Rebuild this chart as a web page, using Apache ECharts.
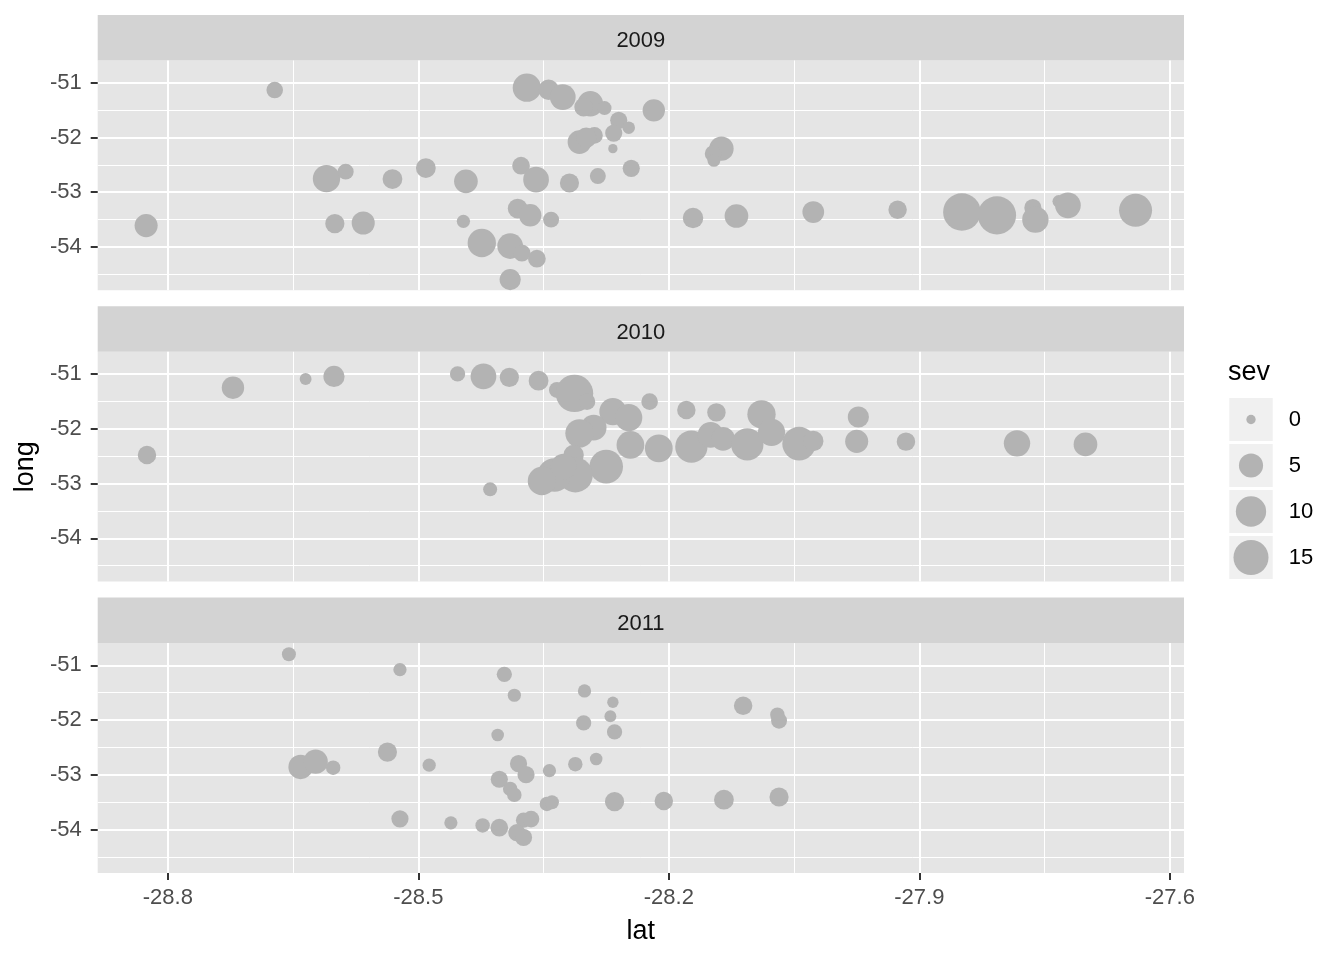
<!DOCTYPE html>
<html><head><meta charset="utf-8">
<script src="https://cdn.jsdelivr.net/npm/echarts@6/dist/echarts.min.js"></script>
<style>html,body{margin:0;padding:0;background:#fff}#chart{width:1344px;height:960px}</style>
</head><body><div id="chart"></div>
<script>
const years = ['2009', '2010', '2011'];

const lat2009 = [-28.672, -28.610, -28.587, -28.531, -28.491, -28.826, -28.600, -28.566,
  -28.370, -28.344, -28.327, -28.294, -28.302, -28.277, -28.218, -28.260, -28.248, -28.266, -28.307, -28.289, -28.299, -28.267, -28.377, -28.359, -28.443, -28.319, -28.285, -28.245, -28.137, -28.147, -28.146, -28.381, -28.366, -28.341, -28.446, -28.171, -28.119, -28.424, -28.390, -28.376, -28.358, -28.390,
  -28.027, -27.926, -27.849, -27.807, -27.764, -27.761, -27.733, -27.722, -27.641];
const long2009 = [-51.135, -52.752, -52.624, -52.759, -52.558, -53.609, -53.573, -53.562,
  -51.091, -51.128, -51.263, -51.383, -51.445, -51.464, -51.505, -51.688, -51.821, -51.920, -52.084, -51.962, -52.004, -52.204, -52.515, -52.770, -52.801, -52.832, -52.704, -52.564, -52.204, -52.296, -52.418, -53.299, -53.421, -53.500, -53.531, -53.471, -53.434, -53.927, -53.982, -54.109, -54.212, -54.595,
  -53.361, -53.318, -53.361, -53.421, -53.281, -53.500, -53.166, -53.239, -53.330];
const sev2009 = [1.2, 7.4, 1, 2.5, 2.5, 4.3, 2.2, 4.3,
  8.2, 2.8, 6.1, 6, 2, 0.5, 3.9, 1.4, 0.24, 1.4, 4.7, 1.2, 2.8, 0, 1.6, 6.1, 4.7, 2.2, 1, 1.4, 5.2, 1.2, 0.3, 2.5, 3.9, 1, 0.35, 2.8, 4.7, 8.2, 6.1, 1.4, 1.6, 3.2,
  3.5, 1.9, 18.1, 19, 1.4, 6.6, 0.24, 6.1, 12.8];

const lat2010 = [-28.722, -28.635, -28.601, -28.825,
  -28.453, -28.422, -28.391, -28.356, -28.334, -28.313, -28.298, -28.223, -28.179, -28.143, -28.089, -28.267, -28.248, -28.290, -28.307, -28.246, -28.212, -28.173, -28.150, -28.135, -28.106, -28.077, -28.044, -28.314, -28.275, -28.312, -28.337, -28.352, -28.326, -28.414,
  -28.027, -27.973, -27.975, -27.916, -27.783, -27.701];
const long2010 = [-51.250, -51.091, -51.044, -52.478,
  -51.000, -51.044, -51.062, -51.122, -51.292, -51.354, -51.505, -51.505, -51.657, -51.701, -51.737, -51.688, -51.797, -51.980, -52.084, -52.296, -52.358, -52.327, -52.113, -52.186, -52.285, -52.066, -52.272, -52.478, -52.691, -52.843, -52.843, -52.953, -52.691, -53.106,
  -52.223, -51.785, -52.230, -52.235, -52.266, -52.285];
const sev2010 = [3.9, 0.15, 3.2, 1.9,
  0.8, 6.1, 2.2, 2.5, 1, 18, 1.2, 1.2, 1.9, 1.9, 8.2, 7.2, 7.2, 6.1, 8.2, 7.7, 7.7, 12, 6.1, 4.7, 12, 7.2, 13.4, 2.8, 13.4, 15, 13.4, 8.2, 6, 0.5,
  2.8, 3.2, 4.3, 1.9, 6.6, 4.7];

const lat2011 = [-28.655, -28.522, -28.641, -28.623, -28.602, -28.537, -28.487, -28.522, -28.461,
  -28.397, -28.385, -28.301, -28.267, -28.270, -28.302, -28.265, -28.405, -28.111, -28.070, -28.068, -28.380, -28.371, -28.403, -28.343, -28.312, -28.287, -28.390, -28.385, -28.346, -28.340, -28.265, -28.206, -28.134, -28.068, -28.423, -28.403, -28.374, -28.365, -28.382, -28.374];
const long2011 = [-50.799, -51.080, -52.856, -52.759, -52.870, -52.585, -52.823, -53.803, -53.876,
  -51.164, -51.547, -51.469, -51.675, -51.931, -52.053, -52.217, -52.272, -51.737, -51.901, -52.011, -52.796, -52.996, -53.080, -52.923, -52.806, -52.710, -53.257, -53.366, -53.531, -53.500, -53.489, -53.478, -53.454, -53.405, -53.923, -53.965, -53.827, -53.808, -54.056, -54.142];
const sev2011 = [0.5, 0.35, 5.2, 5.2, 0.6, 2.2, 0.35, 1.4, 0.35,
  0.8, 0.35, 0.35, 0.1, 0.15, 0.8, 0.8, 0.24, 1.9, 0.6, 1, 1.4, 1.4, 1.4, 0.35, 0.6, 0.24, 0.6, 0.6, 0.6, 0.5, 2.2, 1.9, 2.5, 2.2, 0.6, 1.6, 0.8, 1.2, 1.4, 1.4];

const xTicks = [-28.8, -28.5, -28.2, -27.9, -27.6];
const yTicks = [-54, -53, -52, -51];
const sevBreaks = [0, 5, 10, 15];

const latByYear = [lat2009, lat2010, lat2011];
const longByYear = [long2009, long2010, long2011];
const sevByYear = [sev2009, sev2010, sev2011];

const FONT = "'Liberation Sans', Arial, Helvetica, sans-serif";
const xMin = -28.884, xMax = -27.583, yMin = -54.79, yMax = -50.595;
const panelTops = [60.5, 351.8, 643.1];
const panelH = 229.8, stripH = 45.5;
const gLeft = 97.7, gWidth = 1086.3;
const POINT = '#B3B3B3';
function sz(v) { return 9.3 + 6.64 * Math.sqrt(v); }

const grids = panelTops.map(t => ({
  left: gLeft, top: t, width: gWidth, height: panelH,
  show: true, backgroundColor: '#E5E5E5', borderWidth: 0, containLabel: false
}));
grids.push({ left: 1229.3, top: 396.5, width: 43.4, height: 184, show: false, containLabel: false });

const xAxes = [0, 1, 2].map(i => ({
  type: 'value', gridIndex: i, min: xMin, max: xMax,
  minInterval: 0.3, maxInterval: 0.3,
  axisLine: { show: false },
  axisTick: { show: i === 2, length: 7, customValues: xTicks, lineStyle: { color: '#333333', width: 2 } },
  axisLabel: { show: i === 2, customValues: xTicks, margin: 14, color: '#4D4D4D', fontSize: 22, fontFamily: FONT },
  splitLine: { show: true, lineStyle: { color: '#FFFFFF', width: 2 } },
  minorTick: { show: false, splitNumber: 2 },
  minorSplitLine: { show: true, lineStyle: { color: '#FFFFFF', width: 1 } },
  name: i === 2 ? 'lat' : '', nameLocation: 'middle', nameGap: 45,
  nameTextStyle: { fontSize: 27, color: '#000', fontFamily: FONT }
}));
xAxes.push({ type: 'value', gridIndex: 3, min: 0, max: 1, show: false });

const yAxes = [0, 1, 2].map(i => ({
  type: 'value', gridIndex: i, min: yMin, max: yMax,
  minInterval: 1, maxInterval: 1,
  axisLine: { show: false },
  axisTick: { show: true, length: 7, customValues: yTicks, lineStyle: { color: '#333333', width: 2 } },
  axisLabel: { show: true, customValues: yTicks, margin: 16, padding: [5, 0, 0, 0], color: '#4D4D4D', fontSize: 22, fontFamily: FONT },
  splitLine: { show: true, lineStyle: { color: '#FFFFFF', width: 2 } },
  minorTick: { show: false, splitNumber: 2 },
  minorSplitLine: { show: true, lineStyle: { color: '#FFFFFF', width: 1 } },
  name: i === 1 ? 'long' : '', nameLocation: 'middle', nameGap: 55,
  nameTextStyle: { fontSize: 27, color: '#000', fontFamily: FONT }
}));
yAxes.push({
  type: 'category', gridIndex: 3, data: sevBreaks.map(String), inverse: true, position: 'right',
  axisLine: { show: false }, axisTick: { show: false }, splitLine: { show: false },
  axisLabel: { show: true, margin: 16, padding: [6, 0, 0, 0], color: '#000', fontSize: 22, fontFamily: FONT }
});

const series = [0, 1, 2].map(i => ({
  type: 'scatter', xAxisIndex: i, yAxisIndex: i, z: 5, silent: true,
  data: latByYear[i].map((x, j) => [x, longByYear[i][j], sevByYear[i][j]]),
  symbolSize: val => sz(val[2]),
  itemStyle: { color: POINT, opacity: 1 }
}));
series.push({
  type: 'scatter', xAxisIndex: 3, yAxisIndex: 3, z: 5, silent: true,
  data: sevBreaks.map((v, k) => [0.5, k, v]),
  symbolSize: val => sz(val[2]),
  itemStyle: { color: POINT, opacity: 1 }
});

const graphics = [];
panelTops.forEach((t, i) => {
  graphics.push({ type: 'rect', z: 0, silent: true,
    shape: { x: gLeft, y: t - stripH, width: gWidth, height: stripH },
    style: { fill: '#D3D3D3' } });
  graphics.push({ type: 'text', z: 1, silent: true, x: gLeft + gWidth / 2, y: t - stripH / 2 + 3.5,
    style: { text: years[i], fill: '#1A1A1A', fontSize: 22, fontFamily: FONT, align: 'center', verticalAlign: 'middle' } });
});
sevBreaks.forEach((v, k) => {
  graphics.push({ type: 'rect', z: 0, silent: true,
    shape: { x: 1229.3, y: 398 + k * 46, width: 43.4, height: 43 },
    style: { fill: '#F0F0F0' } });
});
graphics.push({ type: 'text', z: 1, silent: true, x: 1228, y: 373,
  style: { text: 'sev', fill: '#000', fontSize: 27, fontFamily: FONT, align: 'left', verticalAlign: 'middle' } });

const chart = echarts.init(document.getElementById('chart'), null, { renderer: 'canvas' });
chart.setOption({
  animation: false,
  backgroundColor: '#FFFFFF',
  textStyle: { fontFamily: FONT },
  grid: grids,
  xAxis: xAxes,
  yAxis: yAxes,
  series: series,
  graphic: { elements: graphics }
});
</script>
</body></html>
